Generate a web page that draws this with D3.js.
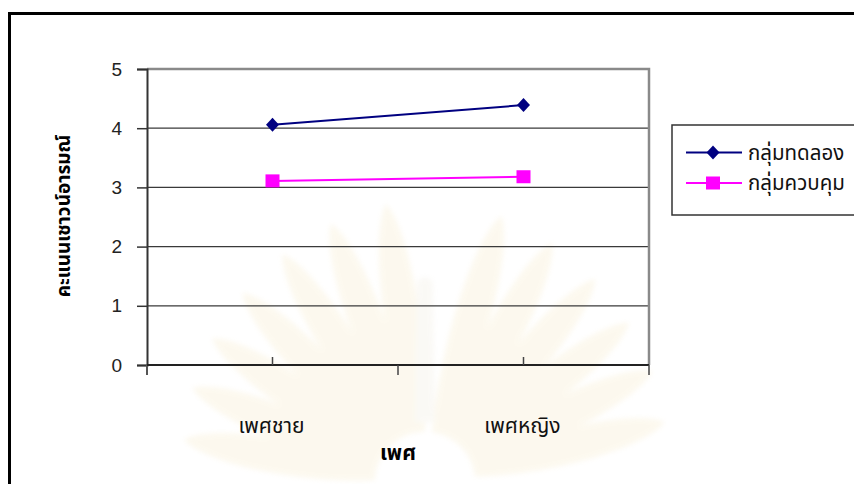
<!DOCTYPE html>
<html>
<head>
<meta charset="utf-8">
<script src="https://cdn.jsdelivr.net/npm/d3@7"></script>
<style>
  html, body { margin: 0; padding: 0; background: #fff; }
  svg { display: block; }
  text { font-family: Tahoma, "Noto Sans Thai", "Liberation Sans", Arial, sans-serif; }
</style>
</head>
<body>
<svg id="chart" width="854" height="484"></svg>
<script>
// Categories (x axis) and series values
const categories = ["เพศชาย", "เพศหญิง"];
const seriesNames = ["กลุ่มทดลอง", "กลุ่มควบคุม"];
const experimentValues = [4.06, 4.39];
const controlValues = [3.11, 3.18];
const yTicks = [0, 1, 2, 3, 4, 5];
const xTitle = "เพศ";
const yTitle = "คะแนนเชาวน์อารมณ์";

const series = [
  { name: seriesNames[0], values: experimentValues, color: "#000080", marker: "diamond" },
  { name: seriesNames[1], values: controlValues, color: "#FF00FF", marker: "square" }
];

const svg = d3.select("#chart");

// Soft-edge filter for the background emblem
svg.append("defs").append("filter").attr("id", "soft")
  .append("feGaussianBlur").attr("stdDeviation", 2.5);

// Outer chart frame
svg.append("rect")
  .attr("x", 9.5).attr("y", 13.5)
  .attr("width", 900).attr("height", 520)
  .attr("fill", "#fff").attr("stroke", "#000").attr("stroke-width", 3);

// Very faint emblem watermark in the page background
const wm = svg.append("g").attr("transform", "translate(425,482)")
  .attr("opacity", 0.2).attr("filter", "url(#soft)");
d3.range(-170, -9, 12).forEach(a => {
  if (Math.abs(a + 90) < 7) return;
  const len = 285 - Math.abs(a + 90) * 0.5;
  wm.append("path")
    .attr("transform", `rotate(${a})`)
    .attr("d", `M50,-7 C${len * 0.5},-24 ${len * 0.9},-20 ${len},0 C${len * 0.9},20 ${len * 0.5},24 50,7 Z`)
    .attr("fill", "#f3e1b0");
});
wm.append("path").attr("d", "M-10,-60 L-8,-200 Q0,-210 8,-200 L10,-60 Z").attr("fill", "#e9e3d2");

const plot = { left: 147, right: 649, top: 69, bottom: 365 };

const x = d3.scaleBand().domain(categories).range([plot.left, plot.right]).padding(0);
const y = d3.scaleLinear().domain([0, 5]).range([plot.bottom, plot.top]);
const cx = c => x(c) + x.bandwidth() / 2;

// Horizontal gridlines
svg.append("g").selectAll("line")
  .data(yTicks.filter(t => t > 0 && t < 5))
  .join("line")
  .attr("x1", plot.left).attr("x2", plot.right)
  .attr("y1", d => y(d)).attr("y2", d => y(d))
  .attr("stroke", "#3a3a3a").attr("stroke-width", 1.2);

// Plot area border (top and right)
svg.append("path")
  .attr("d", `M${plot.left},${y(5)}H${plot.right}V${plot.bottom}`)
  .attr("fill", "none").attr("stroke", "#8a8a8a").attr("stroke-width", 2.5);

// Y axis
const yAxis = d3.axisLeft(y).tickValues(yTicks).tickSize(10).tickPadding(15)
  .tickFormat(d3.format("d"));
const gy = svg.append("g").attr("transform", `translate(${plot.left},0)`).call(yAxis);
gy.select(".domain").attr("stroke", "#333").attr("stroke-width", 2);
gy.selectAll(".tick line").attr("stroke", "#333").attr("stroke-width", 1.5);
gy.selectAll(".tick text")
  .attr("font-size", 19).attr("fill", "#222")
  .style("font-family", "'Liberation Sans', Arial, sans-serif");
// extend the axis line slightly below zero
gy.append("line").attr("x1", 0).attr("x2", 0).attr("y1", plot.bottom).attr("y2", plot.bottom + 10)
  .attr("stroke", "#555").attr("stroke-width", 2);

// X axis line with boundary ticks (down) and centre ticks (up)
const gx = svg.append("g");
gx.append("line")
  .attr("x1", plot.left).attr("x2", plot.right)
  .attr("y1", plot.bottom).attr("y2", plot.bottom)
  .attr("stroke", "#222").attr("stroke-width", 2);
const boundaries = categories.map(c => x(c)).concat([plot.right]);
gx.selectAll("line.bt").data(boundaries.slice(1)).join("line")
  .attr("class", "bt")
  .attr("x1", d => d).attr("x2", d => d)
  .attr("y1", plot.bottom).attr("y2", plot.bottom + 10)
  .attr("stroke", "#444").attr("stroke-width", 1.5);
gx.selectAll("line.ct").data(categories).join("line")
  .attr("class", "ct")
  .attr("x1", d => cx(d)).attr("x2", d => cx(d))
  .attr("y1", plot.bottom).attr("y2", plot.bottom - 8)
  .attr("stroke", "#444").attr("stroke-width", 1.5);
gx.selectAll("text").data(categories).join("text")
  .attr("x", d => cx(d) - 1).attr("y", 433)
  .attr("text-anchor", "middle")
  .attr("font-size", 21).attr("fill", "#111")
  .text(d => d);

// Axis titles
svg.append("text")
  .attr("x", 398).attr("y", 460)
  .attr("text-anchor", "middle")
  .attr("font-size", 21).attr("font-weight", "bold").attr("fill", "#000")
  .text(xTitle);
svg.append("text")
  .attr("transform", "translate(70,216) rotate(-90)")
  .attr("text-anchor", "middle")
  .attr("font-size", 19).attr("font-weight", "bold").attr("fill", "#000")
  .text(yTitle);

// Marker drawing helper
function drawMarker(g, type, color) {
  if (type === "diamond") {
    g.append("path").attr("d", "M0,-7L6.5,0L0,7L-6.5,0Z").attr("fill", color);
  } else {
    g.append("rect").attr("x", -7).attr("y", -6.5).attr("width", 14).attr("height", 13).attr("fill", color);
  }
}

// Series lines and markers
const line = d3.line().x((d, i) => cx(categories[i])).y(d => y(d));
series.forEach(s => {
  svg.append("path")
    .datum(s.values)
    .attr("d", line)
    .attr("fill", "none").attr("stroke", s.color).attr("stroke-width", 2);
  s.values.forEach((v, i) => {
    const g = svg.append("g").attr("transform", `translate(${cx(categories[i])},${y(v)})`);
    drawMarker(g, s.marker, s.color);
  });
});

// Legend
const legend = svg.append("g");
legend.append("rect")
  .attr("x", 672).attr("y", 125).attr("width", 200).attr("height", 90)
  .attr("fill", "#fff").attr("stroke", "#333").attr("stroke-width", 1.5);
series.forEach((s, i) => {
  const ly = 152.5 + i * 30.5;
  legend.append("line")
    .attr("x1", 686).attr("x2", 742).attr("y1", ly).attr("y2", ly)
    .attr("stroke", s.color).attr("stroke-width", 2);
  drawMarker(legend.append("g").attr("transform", `translate(713,${ly})`), s.marker, s.color);
  legend.append("text")
    .attr("x", 748).attr("y", ly + 7)
    .attr("font-size", 20.5).attr("fill", "#111")
    .text(s.name);
});
</script>
</body>
</html>
